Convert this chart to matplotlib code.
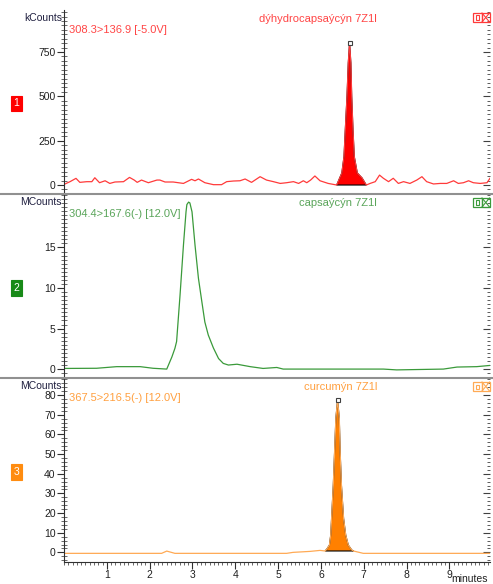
import numpy as np
import matplotlib.pyplot as plt
from matplotlib.patches import Rectangle
from matplotlib.lines import Line2D
from matplotlib.ticker import MultipleLocator, FixedLocator

plt.rcParams['font.family'] = ['Liberation Sans', 'DejaVu Sans']
plt.rcParams['font.size'] = 7.5

# trazas (minutos, intensidad)
t1 = [0.02, 0.14, 0.28, 0.37, 0.53, 0.65, 0.72, 0.83, 0.96, 1.07, 1.19, 1.39, 1.53, 1.64,
      1.71, 1.81, 1.97, 2.17, 2.24, 2.36, 2.55, 2.79, 2.98, 3.06, 3.14, 3.29, 3.49, 3.68,
      3.80, 3.96, 4.11, 4.23, 4.38, 4.58, 4.73, 4.89, 5.05, 5.20, 5.36, 5.48, 5.59, 5.67,
      5.76, 5.86, 5.98, 6.17, 6.37, 6.49, 6.54, 6.57, 6.61, 6.64, 6.67, 6.70, 6.72, 6.75,
      6.78, 6.85, 6.96, 7.06, 7.15, 7.27, 7.37, 7.46, 7.58, 7.69, 7.81, 7.93, 8.08, 8.24,
      8.36, 8.47, 8.63, 8.79, 8.94, 9.10, 9.21, 9.33, 9.45, 9.56, 9.72, 9.88, 9.95]
y1 = [5.6, 18.8, 37.6, 15, 18.8, 18.8, 41, 13, 24, 9, 17, 18.8, 43, 28,
      15, 28, 13, 28, 28, 17, 17, 9, 32, 24, 34, 13, 2, 2,
      19, 22.6, 24, 34, 15, 47, 28, 19, 9, 13, 19, 9, 24, 13,
      28, 51, 24, 9, 0, 68, 160, 310, 498, 688, 801, 688, 498, 310,
      160, 68, 40, 0, 9, 19, 56, 38, 19, 38, 9, 19, 9, 28,
      47, 19, 6, 9, 9, 24, 9, 13, 24, 13, 9, 13, 38]

t2 = [0.02, 0.76, 1.23, 1.78, 2.08, 2.40, 2.44, 2.52, 2.59, 2.63, 2.71, 2.79, 2.85, 2.87,
      2.91, 2.94, 2.99, 3.06, 3.14, 3.22, 3.29, 3.37, 3.49, 3.61, 3.72, 3.84, 4.04, 4.35,
      4.65, 4.97, 5.12, 7.46, 7.77, 8.86, 9.18, 9.64, 9.95]
y2 = [0.08, 0.1, 0.3, 0.3, 0.1, 0.0, 0.5, 1.5, 2.55, 3.4, 9.1, 15.3, 19.4, 20.3,
      20.6, 20.5, 19.4, 15.3, 11.2, 8.3, 5.8, 4.2, 2.6, 1.3, 0.7, 0.5, 0.6, 0.3,
      0.08, 0.2, 0.0, 0.0, -0.1, 0.0, 0.25, 0.3, 0.45]

t3 = [0.02, 2.28, 2.40, 2.59, 5.20, 5.35, 5.75, 5.98, 6.10, 6.14, 6.20, 6.23, 6.25, 6.29,
      6.32, 6.35, 6.39, 6.43, 6.45, 6.48, 6.53, 6.58, 6.64, 6.72, 6.76, 6.99, 9.95]
y3 = [-0.5, -0.5, 0.66, -0.5, -0.5, 0.0, 0.5, 1.0, 0.7, 1.7, 3.7, 8.8, 17.3, 34.2,
      51.2, 68.2, 77.5, 68.2, 51.2, 34.2, 17.3, 8.8, 3.7, 1.2, 0.7, -0.5, -0.5]

titulos = ["dýhydrocapsaýcýn 7Z1l", "capsaýcýn 7Z1l", "curcumýn 7Z1l"]
transiciones = ["308.3>136.9 [-5.0V]", "304.4>167.6(-) [12.0V]", "367.5>216.5(-) [12.0V]"]
unidades = ["kCounts", "MCounts", "MCounts"]
numeros = ["1", "2", "3"]
picos = [(6.37, 7.06), None, (6.10, 6.76)]
ticks_y = [[0, 250, 500, 750], [0, 5, 10, 15], [0, 10, 20, 30, 40, 50, 60, 70, 80]]

col_linea = ['#ff3a3a', '#3a9a3a', '#ffaa55']
col_texto = ['#ff4545', '#5aa55a', '#ffa040']
col_relleno = ['#ff0000', None, '#ff8000']
col_caja = ['#ff0000', '#188a18', '#ff8c10']

ylims = [(-45, 987), (-1.1, 21.6), (-4.9, 88.7)]
mayores = [250, 5, 10]
menores = [25, 0.5, 2]

W, H = 493, 584
fx = lambda px: px / W
fy = lambda py: 1 - py / H

fig = plt.figure(figsize=(4.93, 5.84), dpi=100)
paneles = [(10, 193), (194, 378), (378, 562)]

for i, (ptop, pbot) in enumerate(paneles):
    ax = fig.add_axes([fx(64), fy(pbot), fx(490) - fx(64), (pbot - ptop) / H])
    t = np.array([t1, t2, t3][i])
    y = np.array([y1, y2, y3][i])
    ax.plot(t, y, color=col_linea[i], lw=0.9)
    if picos[i] is not None:
        m = (t >= picos[i][0]) & (t <= picos[i][1])
        ax.fill(t[m], y[m], facecolor=col_relleno[i], edgecolor='black', lw=0.8)
        k = np.argmax(y)
        ax.plot(t[k], y[k], 's', ms=3.5, mfc='white', mec='#404040', mew=0.8)

    ax.set_xlim(0, 9.95)
    ax.set_ylim(*ylims[i])
    ax.yaxis.set_major_locator(FixedLocator(ticks_y[i]))
    ax.yaxis.set_minor_locator(MultipleLocator(menores[i]))
    for s in ['top', 'right']:
        ax.spines[s].set_visible(False)
    ax.spines['left'].set_color('#303030')
    ax.tick_params(axis='y', which='major', direction='out', length=5, color='#303030',
                   labelcolor='#202020', pad=1)
    ax.tick_params(axis='y', which='minor', direction='inout', length=4, color='#505050')

    der = ax.secondary_yaxis('right')
    der.yaxis.set_major_locator(MultipleLocator(mayores[i]))
    der.yaxis.set_minor_locator(MultipleLocator(menores[i]))
    der.tick_params(which='both', direction='in', labelright=False, color='#404040')
    der.tick_params(which='major', length=5)
    der.tick_params(which='minor', length=2.5)
    der.spines['right'].set_visible(False)

    if i < 2:
        ax.spines['bottom'].set_visible(False)
        ax.set_xticks([])
    else:
        ax.spines['bottom'].set_color('#303030')
        ax.xaxis.set_minor_locator(MultipleLocator(0.1))
        ax.set_xticks(range(1, 10))
        ax.tick_params(axis='x', which='major', direction='out', length=5, color='#303030',
                       labelcolor='#202020', pad=1)
        ax.tick_params(axis='x', which='minor', direction='out', length=2.5, color='#505050')

    # textos del panel
    fig.text(fx(62), fy(ptop + 8), unidades[i], ha='right', va='center', color='#202040')
    fig.text(fx(377), fy(ptop + 9), titulos[i], ha='right', va='center', color=col_texto[i],
             fontsize=8)
    fig.text(fx(69), fy(ptop + 20), transiciones[i], ha='left', va='center', color=col_texto[i],
             fontsize=8)

    # numero del panel
    cy = (ptop + pbot) / 2 + 2
    fig.text(fx(16.5), fy(cy), numeros[i], ha='center', va='center', color='white',
             fontsize=7.5,
             bbox=dict(boxstyle='square,pad=0.25', fc=col_caja[i], ec=col_caja[i], lw=0.8))

    # iconos arriba a la derecha
    iy = ptop + 3 if i == 0 else ptop + 4
    for j, x0 in enumerate([473, 481.5]):
        fig.patches.append(Rectangle((fx(x0), fy(iy + 9)), fx(8.5), 9 / H, transform=fig.transFigure,
                                     fill=False, ec=col_linea[i], lw=0.9))
    fig.patches.append(Rectangle((fx(475.5), fy(iy + 6.5)), fx(3.5), 4 / H, transform=fig.transFigure,
                                 fill=False, ec=col_linea[i], lw=0.8))
    fig.lines.append(Line2D([fx(482), fx(489.5)], [fy(iy + 9), fy(iy)], transform=fig.transFigure,
                            color=col_linea[i], lw=0.8))
    fig.lines.append(Line2D([fx(482), fx(489.5)], [fy(iy), fy(iy + 9)], transform=fig.transFigure,
                            color=col_linea[i], lw=0.8))

# separadores entre paneles
for py in [193.5, 378]:
    fig.lines.append(Line2D([0, 1], [fy(py), fy(py)], transform=fig.transFigure,
                            color='#909090', lw=1.5))

fig.text(fx(470), fy(579), "minutes", ha='center', va='center', color='#202020')

plt.savefig("out.png", dpi=100)
